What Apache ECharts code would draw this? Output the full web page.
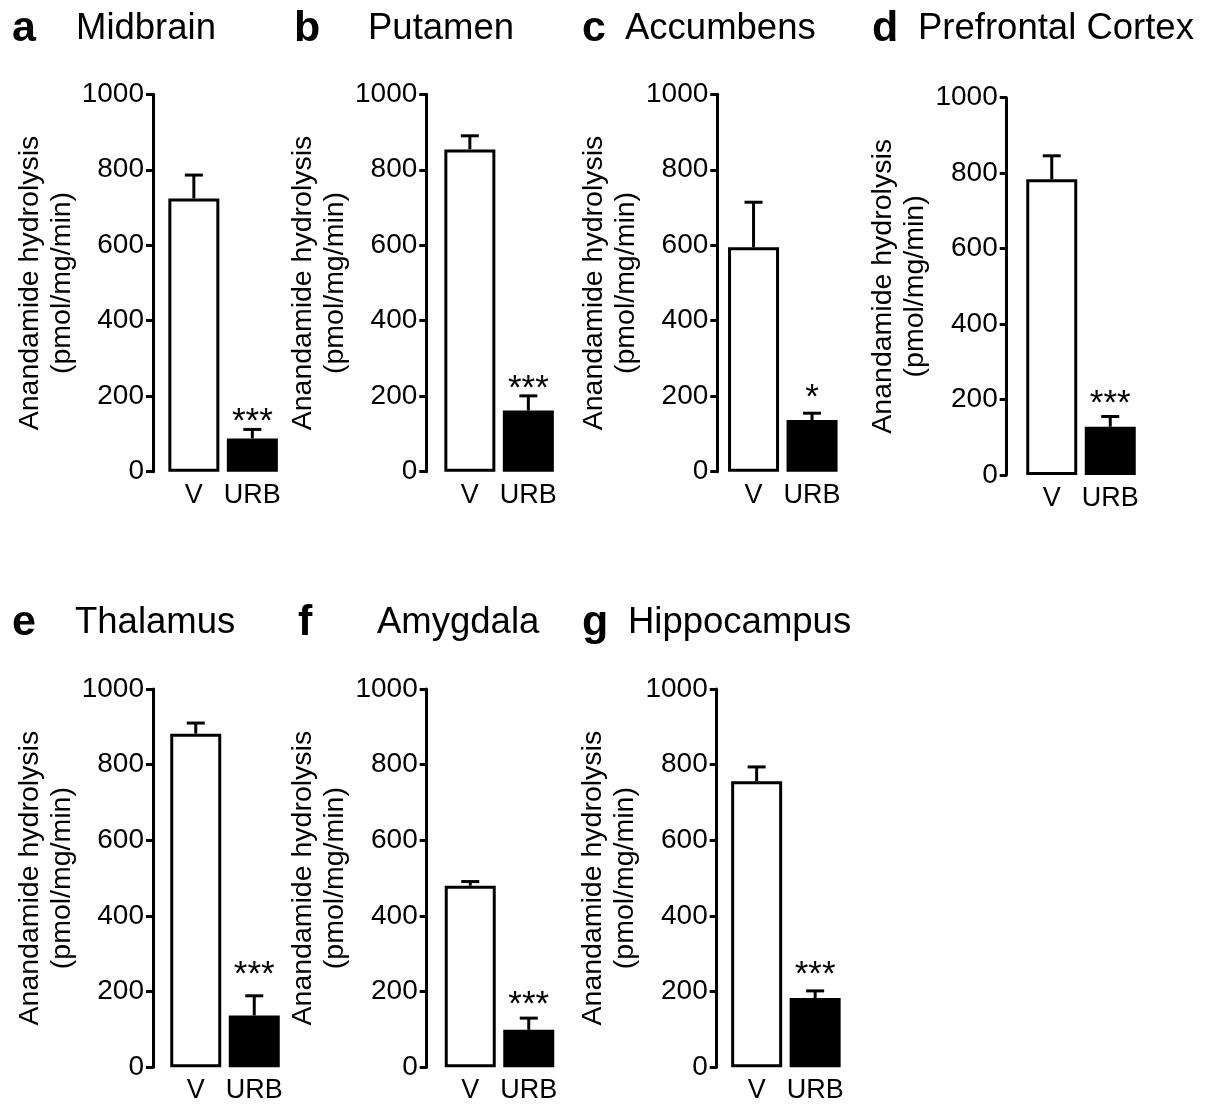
<!DOCTYPE html>
<html><head><meta charset="utf-8">
<script src="https://cdn.jsdelivr.net/npm/echarts@6/dist/echarts.min.js"></script>
<style>html,body{margin:0;padding:0;background:#fff}#chart{width:1210px;height:1105px}</style>
</head><body><div id="chart"></div>
<script>
// ---- data ----
const letters = ['a', 'b', 'c', 'd', 'e', 'f', 'g'];
const regions = ['Midbrain', 'Putamen', 'Accumbens', 'Prefrontal Cortex', 'Thalamus', 'Amygdala', 'Hippocampus'];
const groups = ['V', 'URB'];
const vehicleMean = [724, 854, 595, 784, 882, 480, 756];
const vehicleSem = [62, 36, 119, 62, 28, 11, 38];
const urbMean = [88, 162, 137, 128, 137, 99, 183];
const urbSem = [24, 39, 18, 27, 52, 31, 19];
const significance = ['***', '***', '*', '***', '***', '***', '***'];
const starLevel = [150, 238, 212, 207, 262, 183, 262];
const yMin = 0, yMax = 1000, yStep = 200;
const yName = 'Anandamide hydrolysis\n(pmol/mg/min)';

// ---- layout ----
const FONT = '"Liberation Sans", Arial, sans-serif';
const layout = [
  {gx: 164.6, gy: 94.3, gh: 377.4, off: 11.6, lx: 12, tx: 76, ty: 29},
  {gx: 440.6, gy: 94.3, gh: 377.4, off: 14.3, lx: 294, tx: 368, ty: 29},
  {gx: 724.3, gy: 94.3, gh: 377.4, off: 7, lx: 582, tx: 625, ty: 29},
  {gx: 1022.5, gy: 97.7, gh: 377.3, off: 15.8, lx: 872, tx: 918, ty: 29},
  {gx: 166.5, gy: 689, gh: 378.3, off: 13.5, lx: 12, tx: 75, ty: 623},
  {gx: 441, gy: 689, gh: 378.3, off: 14.3, lx: 298, tx: 377, ty: 623},
  {gx: 727.4, gy: 689, gh: 378.3, off: 10.7, lx: 582, tx: 628, ty: 623}
];

const grid = [], xAxis = [], yAxis = [], series = [], graphic = [];
layout.forEach((L, i) => {
  grid.push({left: L.gx, top: L.gy, width: 117, height: L.gh, containLabel: false});
  xAxis.push({
    gridIndex: i, type: 'category', data: groups,
    axisLine: {show: false}, axisTick: {show: false},
    axisLabel: {interval: 0, fontSize: 27, color: '#000', fontFamily: FONT, margin: 10}
  });
  yAxis.push({
    gridIndex: i, type: 'value', min: yMin, max: yMax, interval: yStep, offset: L.off,
    name: yName, nameLocation: 'middle', nameGap: 66,
    nameTextStyle: {fontSize: 28.5, lineHeight: 32, color: '#000', fontFamily: FONT},
    axisLine: {show: true, lineStyle: {color: '#000', width: 3}},
    axisTick: {show: true, length: 7, lineStyle: {color: '#000', width: 3}},
    splitLine: {show: false},
    axisLabel: {fontSize: 28, color: '#000', fontFamily: FONT, margin: 9,
      formatter: v => String(v)}
  });
  series.push({
    type: 'bar', xAxisIndex: i, yAxisIndex: i, barWidth: 51, z: 2,
    data: [
      {value: vehicleMean[i], itemStyle: {color: '#fff', borderColor: '#000', borderWidth: 3}},
      {value: urbMean[i], itemStyle: {color: '#000', borderColor: '#000', borderWidth: 3}}
    ]
  });
  series.push({
    type: 'custom', xAxisIndex: i, yAxisIndex: i, z: 3,
    data: [[0, vehicleMean[i], vehicleSem[i]], [1, urbMean[i], urbSem[i]]],
    encode: {x: 0, y: 1},
    renderItem: function (params, api) {
      const c = api.value(0), m = api.value(1), s = api.value(2);
      const p0 = api.coord([c, m]), p1 = api.coord([c, m + s]);
      return {type: 'group', children: [
        {type: 'line', shape: {x1: p0[0], y1: p0[1], x2: p1[0], y2: p1[1]}, style: {stroke: '#000', lineWidth: 3}},
        {type: 'line', shape: {x1: p1[0] - 9, y1: p1[1], x2: p1[0] + 9, y2: p1[1]}, style: {stroke: '#000', lineWidth: 3}}
      ]};
    }
  });
  series.push({
    type: 'custom', xAxisIndex: i, yAxisIndex: i, z: 4,
    data: [[1, starLevel[i]]],
    encode: {x: 0, y: 1},
    renderItem: function (params, api) {
      const p = api.coord([api.value(0), api.value(1)]);
      return {type: 'text', x: p[0], y: p[1] + 7, style: {
        text: significance[i], fontSize: 35, fontFamily: FONT, fill: '#000',
        align: 'center', verticalAlign: 'middle'}};
    }
  });
  graphic.push({type: 'text', x: L.lx, y: L.ty, style: {text: letters[i], fontSize: 43, fontWeight: 'bold', fontFamily: FONT, fill: '#000', verticalAlign: 'middle'}});
  graphic.push({type: 'text', x: L.tx, y: L.ty, style: {text: regions[i], fontSize: 36.5, fontFamily: FONT, fill: '#000', verticalAlign: 'middle'}});
});

const chart = echarts.init(document.getElementById('chart'), null, {renderer: 'canvas'});
chart.setOption({animation: false, backgroundColor: '#fff', grid, xAxis, yAxis, series, graphic});
</script>
</body></html>
